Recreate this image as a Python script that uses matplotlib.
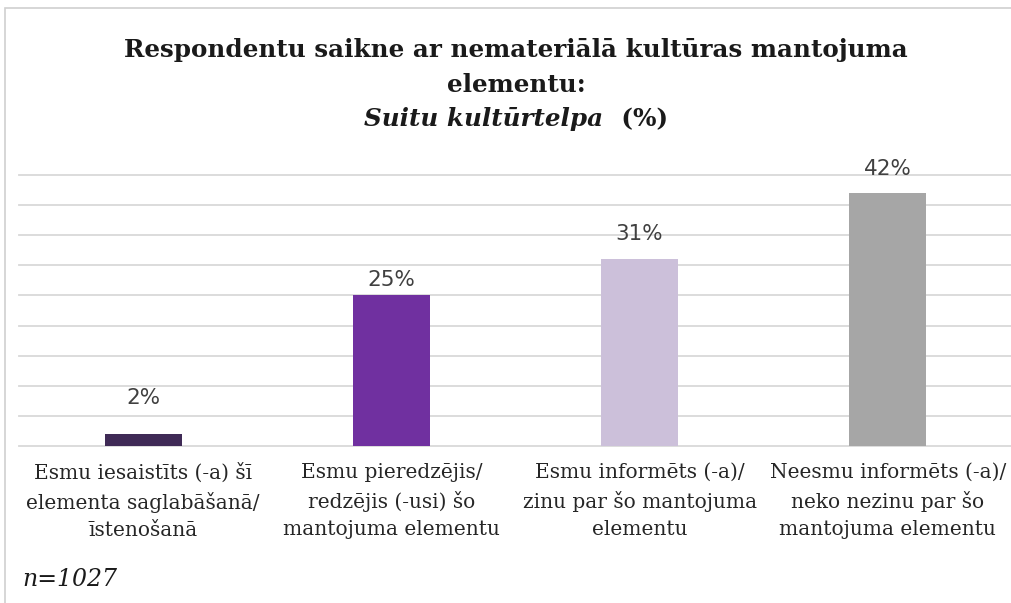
import matplotlib.pyplot as plt
from matplotlib.patches import Rectangle

categories = [
    "Esmu iesaistīts (-a) šī\nelementa saglabāšanā/\nīstenošanā",
    "Esmu pieredzējis/\nredzējis (-usi) šo\nmantojuma elementu",
    "Esmu informēts (-a)/\nzinu par šo mantojuma\nelementu",
    "Neesmu informēts (-a)/\nneko nezinu par šo\nmantojuma elementu",
]
values = [2, 25, 31, 42]
colors = ["#3f2a56", "#7030a0", "#ccc0da", "#a6a6a6"]
# data labels were hand-placed in the original, so the gap above each bar differs
label_pad = [26, 11, 18, 17]

W, H = 1012, 603
SERIF = "DejaVu Serif"
fig = plt.figure(figsize=(W / 100, H / 100), dpi=100)
fig.patches.append(Rectangle((5 / W, -0.01), 1.02, 1 - 8 / H + 0.01, transform=fig.transFigure,
                             fill=False, edgecolor="#d0d0d0", linewidth=1.2))

ax = fig.add_axes([19 / W, 1 - 446 / H, 993 / W, (446 - 175) / H])
x = range(len(values))
bars = ax.bar(x, values, width=0.31, color=colors, zorder=3)
ax.set_xlim(-0.5, 3.5)
ax.set_ylim(0, 45)
ax.set_yticks(range(0, 46, 5))
ax.yaxis.grid(True, color="#d9d9d9", linewidth=1.3, zorder=0)
for gl in ax.get_ygridlines():
    gl.set_clip_on(False)
ax.tick_params(left=False, bottom=False, labelleft=False, labelbottom=False)
for s in ax.spines.values():
    s.set_visible(False)

for xi, v, pad in zip(x, values, label_pad):
    ax.annotate(f"{v}%", (xi, v), xytext=(0, pad), textcoords="offset points",
                ha="center", va="center", fontsize=15.5, color="#404040",
                family="DejaVu Sans")

for xi, lab in zip(x, categories):
    ax.annotate(lab, (xi, 0), xytext=(0, -12), textcoords="offset points",
                ha="center", va="top", fontsize=14.5, color="#262626",
                family=SERIF, linespacing=1.55)

title_kw = dict(ha="center", va="center", fontsize=17.7, fontweight="bold",
                color="#1a1a1a", family=SERIF)
cx = 516 / W
fig.text(cx, 1 - 50 / H, "Respondentu saikne ar nemateriālā kultūras mantojuma", **title_kw)
fig.text(cx, 1 - 85 / H, "elementu:", **title_kw)

# third title line: italic part + regular part, centered together
t1 = fig.text(0, 1 - 119 / H, "Suitu kultūrtelpa", style="italic", **{**title_kw, "ha": "left"})
t2 = fig.text(0, 1 - 119 / H, "  (%)", **{**title_kw, "ha": "left"})
r = fig.canvas.get_renderer()
w1 = t1.get_window_extent(r).width
w2 = t2.get_window_extent(r).width
start = 516 - (w1 + w2) / 2
t1.set_x(start / W)
t2.set_x((start + w1) / W)

fig.text(22 / W, 1 - 580 / H, "n=1027", ha="left", va="center", fontsize=17,
         style="italic", color="#1a1a1a", family=SERIF)

fig.savefig("out.png", dpi=100, facecolor="white")
